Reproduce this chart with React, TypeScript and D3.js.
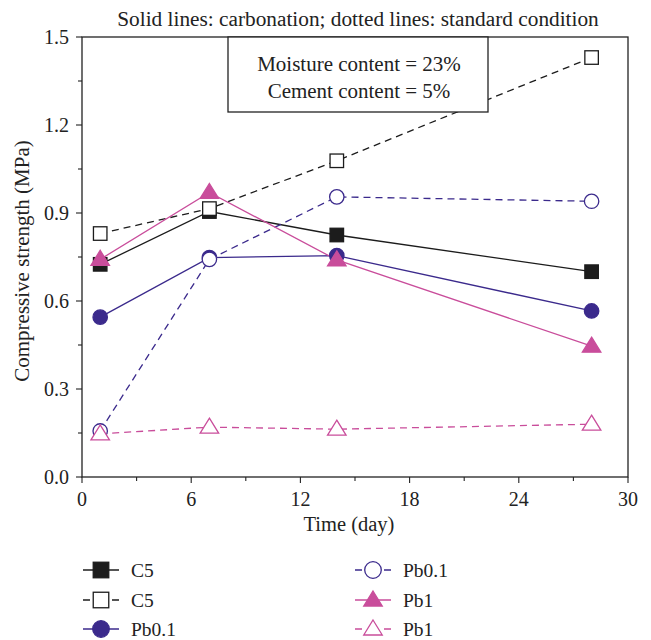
import React, {useEffect, useRef} from 'react';
import * as d3 from 'd3';

// curing time (day)
const days = [1, 7, 14, 28];

// compressive strength (MPa)
const c5Carb = [0.725, 0.905, 0.825, 0.70];
const c5Std = [0.83, 0.915, 1.078, 1.43];
const pb01Carb = [0.545, 0.748, 0.755, 0.566];
const pb01Std = [0.157, 0.742, 0.955, 0.94];
const pb1Carb = [0.742, 0.97, 0.74, 0.446];
const pb1Std = [0.147, 0.17, 0.163, 0.18];

const xTicks = [0, 6, 12, 18, 24, 30];
const yTicks = [0.0, 0.3, 0.6, 0.9, 1.2, 1.5];

const BLACK = '#1c1c1c';
const NAVY = '#3b2a8c';
const PINK = '#c94d9b';

const series = [
    {name: 'C5', values: c5Carb, color: BLACK, dashed: false, shape: 'square', filled: true},
    {name: 'C5', values: c5Std, color: BLACK, dashed: true, shape: 'square', filled: false},
    {name: 'Pb0.1', values: pb01Carb, color: NAVY, dashed: false, shape: 'circle', filled: true},
    {name: 'Pb0.1', values: pb01Std, color: NAVY, dashed: true, shape: 'circle', filled: false},
    {name: 'Pb1', values: pb1Carb, color: PINK, dashed: false, shape: 'triangle', filled: true},
    {name: 'Pb1', values: pb1Std, color: PINK, dashed: true, shape: 'triangle', filled: false},
];

const FONT = "'Liberation Serif', 'DejaVu Serif', serif";

// k scales the marker (legend markers are a bit bigger)
function drawMarker(g, shape, filled, color, cx, cy, k = 1) {
    const fill = filled ? color : 'white';
    if (shape === 'square') {
        const s = 13.5 * k;
        g.append('rect')
            .attr('x', cx - s / 2).attr('y', cy - s / 2)
            .attr('width', s).attr('height', s)
            .attr('fill', fill)
            .attr('stroke', color)
            .attr('stroke-width', 1.3);
    } else if (shape === 'circle') {
        g.append('circle')
            .attr('cx', cx).attr('cy', cy).attr('r', 7.2 * k)
            .attr('fill', fill)
            .attr('stroke', color)
            .attr('stroke-width', 1.3);
    } else {
        const h = 15, w = 18.5;
        g.append('path')
            .attr('d', `M${cx},${cy - h * 0.6}L${cx + w / 2},${cy + h * 0.4}L${cx - w / 2},${cy + h * 0.4}Z`)
            .attr('fill', fill)
            .attr('stroke', color)
            .attr('stroke-width', 1.3);
    }
}

function label(g, txt, xPos, yPos, anchor, size) {
    return g.append('text')
        .attr('x', xPos)
        .attr('y', yPos)
        .attr('text-anchor', anchor)
        .style('font-family', FONT)
        .style('font-size', `${size}px`)
        .attr('fill', '#222')
        .text(txt);
}

export default function App() {
    const ref = useRef(null);

    useEffect(() => {
        const svg = d3.select(ref.current);
        svg.selectAll('*').remove();

        const left = 82, right = 628, top = 37, bottom = 477;

        const x = d3.scaleLinear().domain([0, 30]).range([left, right]);
        const y = d3.scaleLinear().domain([0, 1.5]).range([bottom, top]);

        // frame
        svg.append('rect')
            .attr('x', left).attr('y', top)
            .attr('width', right - left).attr('height', bottom - top)
            .attr('fill', 'none')
            .attr('stroke', '#222')
            .attr('stroke-width', 1.3);

        // x axis ticks
        const xAxis = svg.append('g').attr('transform', `translate(0,${bottom})`);
        d3.range(0, 31, 3).forEach((t) => {
            const major = t % 6 === 0;
            xAxis.append('line')
                .attr('x1', x(t)).attr('x2', x(t))
                .attr('y1', 0).attr('y2', major ? 6 : 4)
                .attr('stroke', '#222').attr('stroke-width', 1.1);
        });
        xTicks.forEach((t) => label(xAxis, t, x(t), 29, 'middle', 20));

        // y axis ticks
        const yAxis = svg.append('g').attr('transform', `translate(${left},0)`);
        d3.range(0, 11).forEach((i) => {
            const t = i * 0.15;
            const major = i % 2 === 0;
            yAxis.append('line')
                .attr('x1', major ? -6 : -4).attr('x2', 0)
                .attr('y1', y(t)).attr('y2', y(t))
                .attr('stroke', '#222').attr('stroke-width', 1.1);
        });
        yTicks.forEach((t) => label(yAxis, d3.format('.1f')(t), -13, y(t) + 7, 'end', 20));

        // axis titles
        label(svg, 'Time (day)', 349, 531, 'middle', 20.5);
        label(svg, 'Compressive strength (MPa)', 0, 0, 'middle', 21)
            .attr('transform', `translate(29,261) rotate(-90)`);

        // heading
        label(svg, 'Solid lines: carbonation; dotted lines: standard condition', 358, 26, 'middle', 21.3);

        // lines first, then markers
        const line = d3.line()
            .x((d, i) => x(days[i]))
            .y((d) => y(d));

        const plot = svg.append('g');
        series.forEach((s) => {
            plot.append('path')
                .attr('d', line(s.values))
                .attr('fill', 'none')
                .attr('stroke', s.color)
                .attr('stroke-width', 1.3)
                .attr('stroke-dasharray', s.dashed ? '7,5' : null);
        });
        series.forEach((s) => {
            s.values.forEach((v, i) => {
                drawMarker(plot, s.shape, s.filled, s.color, x(days[i]), y(v));
            });
        });

        // info box
        svg.append('rect')
            .attr('x', 228).attr('y', top)
            .attr('width', 260).attr('height', 75)
            .attr('fill', 'white')
            .attr('stroke', '#222')
            .attr('stroke-width', 1.3);
        label(svg, 'Moisture content = 23%', 359, 71, 'middle', 21);
        label(svg, 'Cement content = 5%', 359, 98, 'middle', 21);

        // legend, two columns of three
        const legend = svg.append('g');
        const rowY = [570, 600, 629];
        series.forEach((s, i) => {
            const col = Math.floor(i / 3);
            const row = i % 3;
            const lx = col === 0 ? 83 : 355;
            const cy = rowY[row];
            legend.append('line')
                .attr('x1', lx).attr('x2', lx + 36)
                .attr('y1', cy).attr('y2', cy)
                .attr('stroke', s.color)
                .attr('stroke-width', 1.3)
                .attr('stroke-dasharray', s.dashed ? '7,22' : null);
            drawMarker(legend, s.shape, s.filled, s.color, lx + 18, cy, 1.15);
            label(legend, s.name, lx + 48, cy + 7, 'start', 19.5);
        });
    }, []);

    return (
        <svg ref={ref} width={651} height={640}
            style={{position: 'absolute', left: 0, top: 0, background: 'white'}} />
    );
}
